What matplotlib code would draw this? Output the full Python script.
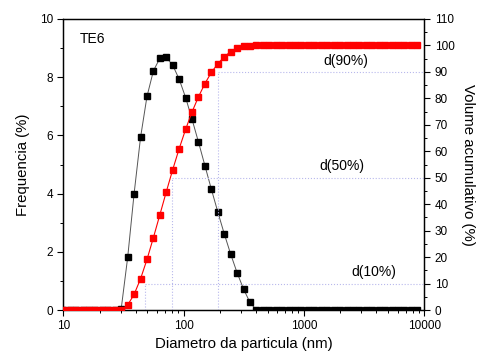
import matplotlib
matplotlib.use("Agg")
import matplotlib.pyplot as plt
from matplotlib.ticker import FixedLocator, FixedFormatter, MultipleLocator, LogLocator, NullFormatter

plt.rcParams["font.family"] = ["Liberation Sans", "DejaVu Sans"]

# particle size bins (nm)
diameter = [10, 11.31, 12.79, 14.47, 16.37, 18.51, 20.94, 23.69, 26.79, 30.30,
            34.28, 38.76, 43.85, 49.60, 56.10, 63.45, 71.78, 81.19, 91.84, 103.9,
            117.5, 132.9, 150.3, 170.0, 192.3, 217.5, 246.0, 278.3, 314.8, 356.0,
            402.7, 455.4, 515.2, 582.7, 659.1, 745.4, 843.3, 953.8, 1079, 1220,
            1380, 1561, 1766, 1997, 2259, 2554, 2890, 3269, 3697, 4182,
            4732, 5351, 6054, 6847, 7745, 8759]

# frequency (%) - left axis
frequency = [0, 0, 0, 0, 0, 0, 0, 0, 0, 0.05,
             1.81, 4.00, 5.93, 7.34, 8.22, 8.65, 8.68, 8.41, 7.93, 7.30,
             6.55, 5.77, 4.96, 4.15, 3.37, 2.62, 1.92, 1.28, 0.72, 0.26,
             0, 0, 0, 0, 0, 0, 0, 0, 0, 0,
             0, 0, 0, 0, 0, 0, 0, 0, 0, 0,
             0, 0, 0, 0, 0, 0]

# cumulative volume (%) - right axis
cumulative = [0, 0, 0, 0, 0, 0, 0, 0, 0, 0,
              1.9, 5.9, 11.8, 19.1, 27.4, 36.0, 44.7, 53.1, 61.0, 68.3,
              74.9, 80.6, 85.6, 89.8, 93.1, 95.7, 97.7, 98.9, 99.7, 99.9,
              100, 100, 100, 100, 100, 100, 100, 100, 100, 100,
              100, 100, 100, 100, 100, 100, 100, 100, 100, 100,
              100, 100, 100, 100, 100, 100]

# d10, d50, d90 markers
d_labels = ["d(10%)", "d(50%)", "d(90%)"]
d_percent = [10, 50, 90]
d_size = [47.8, 79.6, 194.5]
d_text_x = [3800, 2070, 2240]

fig = plt.figure(figsize=(4.81, 3.58), dpi=100)
ax = fig.add_axes([0.1316, 0.134, 0.7505, 0.813])
ax2 = ax.twinx()

ax.plot(diameter, frequency, color="#555555", lw=0.7, marker="s", ms=3.8,
        mfc="black", mec="black", zorder=3)
ax2.plot(diameter, cumulative, color="red", lw=0.8, marker="s", ms=3.8,
         mfc="red", mec="red", zorder=3)

dot_color = "#b8b8ec"
for lab, p, d, tx in zip(d_labels, d_percent, d_size, d_text_x):
    ax2.plot([d, d], [0, p], ls=":", color=dot_color, lw=0.8, zorder=1)
    ax2.plot([d, 10000], [p, p], ls=":", color=dot_color, lw=0.8, zorder=1)
    ax2.text(tx, p + 4.3, lab, fontsize=10, ha="center", va="center")

ax.set_xscale("log")
ax.set_xlim(10, 10000)
ax.set_ylim(0, 10)
ax2.set_ylim(0, 110)

ax.xaxis.set_major_locator(FixedLocator([10, 100, 1000, 10000]))
ax.xaxis.set_major_formatter(FixedFormatter(["10", "100", "1000", "10000"]))
ax.xaxis.set_minor_locator(LogLocator(base=10, subs=range(2, 10)))
ax.xaxis.set_minor_formatter(NullFormatter())

ax.yaxis.set_major_locator(MultipleLocator(2))
ax.yaxis.set_minor_locator(MultipleLocator(1))
ax2.yaxis.set_major_locator(MultipleLocator(10))
ax2.yaxis.set_minor_locator(MultipleLocator(5))

for a in (ax, ax2):
    a.tick_params(which="major", direction="out", length=4, width=0.8, labelsize=8.5)
    a.tick_params(which="minor", direction="out", length=2.2, width=0.7)
    for s in a.spines.values():
        s.set_linewidth(0.9)

ax.text(0.045, 0.93, "TE6", transform=ax.transAxes, fontsize=10, va="center")

ax.set_xlabel("Diametro da particula (nm)", fontsize=10.8, labelpad=3)
ax.set_ylabel("Frequencia (%)", fontsize=10.8, labelpad=7)
ax2.set_ylabel("Volume acumulativo (%)", fontsize=10.8, rotation=270, labelpad=15)

fig.savefig("out.png", dpi=100)
